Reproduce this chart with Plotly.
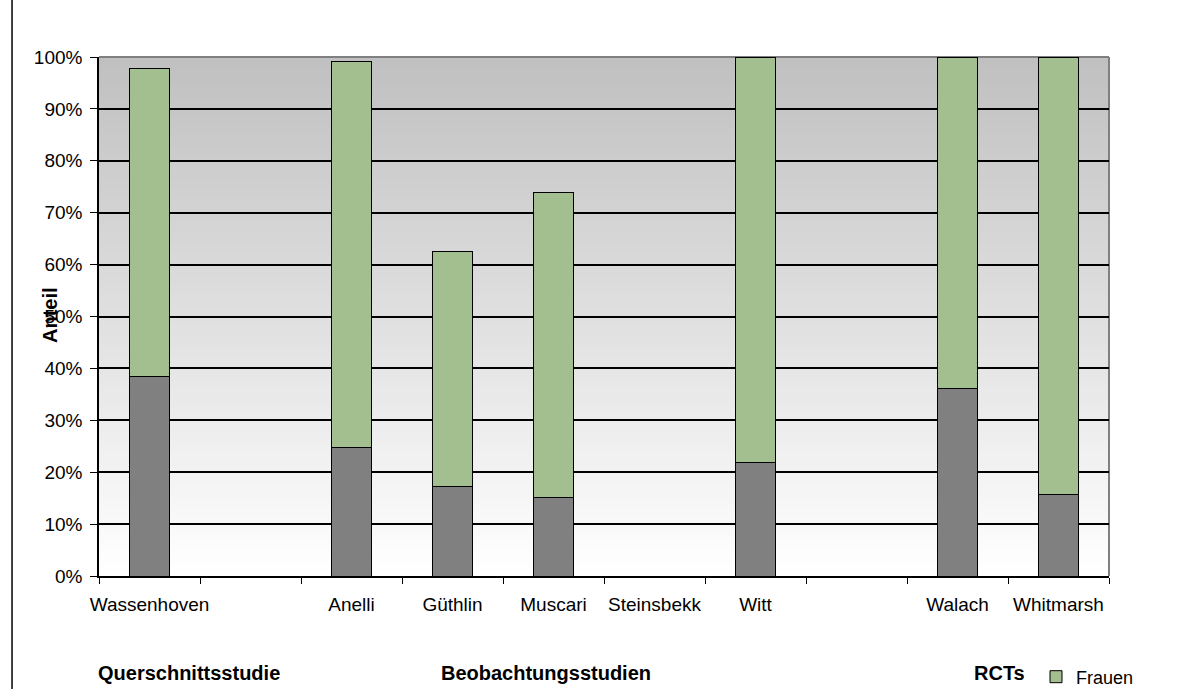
import plotly.graph_objects as go

categories = ["Wassenhoven", " ", "Anelli", "Güthlin", "Muscari", "Steinsbekk", "Witt", "  ", "Walach", "Whitmarsh"]
maenner = [0.385, None, 0.247, 0.173, 0.152, 0.0, 0.218, None, 0.362, 0.158]
frauen = [0.592, None, 0.745, 0.453, 0.586, 0.0, 0.782, None, 0.638, 0.842]
y_ticks = [0, 0.1, 0.2, 0.3, 0.4, 0.5, 0.6, 0.7, 0.8, 0.9, 1.0]
y_ticklabels = ["0%", "10%", "20%", "30%", "40%", "50%", "60%", "70%", "80%", "90%", "100%"]
group_labels = ["Querschnittsstudie", "Beobachtungsstudien", "RCTs"]
group_label_x = [0.089, 0.4426, 0.892]

W, H = 1203, 689
L, R, T, B = 99, 94, 57, 113

fig = go.Figure()
fig.add_trace(go.Bar(x=categories, y=maenner, name="Männer",
                     marker=dict(color="#808080", line=dict(color="#000000", width=1)),
                     showlegend=False))
fig.add_trace(go.Bar(x=categories, y=frauen, name="Frauen",
                     marker=dict(color="#a3be8f", line=dict(color="#000000", width=1))))

# gradient background
shapes = []
n = 80
for i in range(n):
    t = i / (n - 1)
    c = int(round(255 - (255 - 192) * t))
    shapes.append(dict(type="rect", xref="paper", yref="paper", x0=0, x1=1,
                       y0=i / n, y1=(i + 1) / n + 0.002,
                       fillcolor=f"rgb({c},{c},{c})", line=dict(width=0), layer="below"))
# gray border top/right
shapes.append(dict(type="line", xref="paper", yref="paper", x0=0, x1=1, y0=1, y1=1,
                   line=dict(color="#808080", width=2), layer="between"))
shapes.append(dict(type="line", xref="paper", yref="paper", x0=1, x1=1, y0=0, y1=1,
                   line=dict(color="#808080", width=2), layer="between"))
# left page line
shapes.append(dict(type="line", xref="paper", yref="paper", x0=-0.0861, x1=-0.0861,
                   y0=-0.25, y1=1.15, line=dict(color="#000000", width=1.5), layer="above"))

annotations = [dict(text="<b>Anteil</b>", xref="paper", yref="paper", x=-0.0485, y=0.503,
                    textangle=-90, showarrow=False, font=dict(size=20, color="#000000"),
                    xanchor="center", yanchor="middle")]
for lab, gx in zip(group_labels, group_label_x):
    annotations.append(dict(text=f"<b>{lab}</b>", xref="paper", yref="paper", x=gx, y=-0.187,
                            showarrow=False, font=dict(size=20, color="#000000"),
                            xanchor="center", yanchor="middle"))

fig.update_layout(
    width=W, height=H,
    margin=dict(l=L, r=R, t=T, b=B, autoexpand=False),
    barmode="stack", bargap=0.595,
    paper_bgcolor="#ffffff", plot_bgcolor="rgba(0,0,0,0)",
    font=dict(family="Liberation Sans, Arial, sans-serif", color="#000000", size=18),
    shapes=shapes, annotations=annotations,
    legend=dict(x=(1036 - L) / (W - L - R), y=(576 - 677) / (H - T - B),
                xanchor="left", yanchor="middle", bgcolor="rgba(0,0,0,0)",
                font=dict(size=18), itemwidth=30),
    xaxis=dict(type="category", categoryorder="array", categoryarray=categories,
               tickson="boundaries", ticks="outside", ticklen=6, tickcolor="#000000",
               showline=True, linecolor="#000000", linewidth=1.5, showgrid=False,
               tickangle=0, tickfont=dict(size=19), ticklabelstandoff=10, fixedrange=True),
    yaxis=dict(range=[0, 1], tickvals=y_ticks, ticktext=y_ticklabels,
               ticks="outside", ticklen=7, tickcolor="#000000",
               showline=True, linecolor="#000000", linewidth=1.5,
               showgrid=True, gridcolor="#000000", gridwidth=1.5,
               zeroline=False, tickfont=dict(size=19), ticklabelstandoff=4),
)

fig.write_html("out.html")
